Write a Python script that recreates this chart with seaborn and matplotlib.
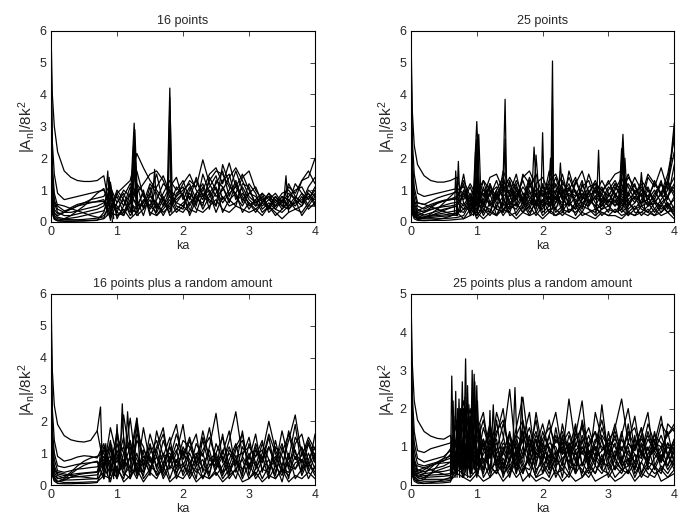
import pandas as pd
import seaborn as sns
import matplotlib
matplotlib.use('Agg')
import matplotlib.pyplot as plt

# sample positions (ka) shared by all traced curves
ka_grid = [0.0, 0.02, 0.05, 0.1, 0.2, 0.3, 0.4, 0.5, 0.6, 0.7, 0.8,
           0.9, 1.0, 1.1, 1.2, 1.3, 1.4, 1.5, 1.6, 1.7, 1.8, 1.9,
           2.0, 2.1, 2.2, 2.3, 2.4, 2.5, 2.6, 2.7, 2.8, 2.9, 3.0,
           3.1, 3.2, 3.3, 3.4, 3.5, 3.6, 3.7, 3.8, 3.9, 4.0]

titles = ['16 points', '25 points',
          '16 points plus a random amount', '25 points plus a random amount']
y_tops = [6, 6, 6, 5]

# --- 16 points ---
p1_curves = [
    [6.0, 4.0, 3.0, 2.2, 1.6, 1.4, 1.3, 1.27, 1.27, 1.3, 1.45,
     0.3, 0.9, 1.1, 1.3, 2.15, 1.7, 1.3, 1.0, 0.7, 0.4, 0.8,
     1.2, 1.5, 1.0, 0.7, 1.3, 1.6, 1.5, 1.1, 0.9, 1.4, 1.6,
     1.0, 0.7, 0.8, 0.6, 0.9, 1.0, 0.7, 1.3, 1.6, 1.2],
    [5.5, 2.5, 1.5, 0.9, 0.7, 0.75, 0.8, 0.85, 0.9, 0.95, 1.0,
     0.6, 0.3, 0.8, 1.2, 0.9, 1.2, 1.5, 1.6, 1.3, 0.8, 0.6,
     0.9, 1.3, 1.1, 1.95, 1.2, 0.8, 1.0, 1.4, 1.7, 1.3, 0.8,
     0.6, 0.7, 0.5, 0.8, 0.6, 1.1, 0.9, 1.3, 1.4, 2.0],
    [5.0, 1.8, 0.9, 0.5, 0.35, 0.4, 0.5, 0.6, 0.7, 0.75, 0.8,
     1.2, 0.1, 0.5, 0.9, 1.6, 0.8, 0.5, 1.1, 1.45, 0.9, 0.6,
     0.5, 0.9, 0.6, 1.0, 1.5, 1.7, 1.2, 1.85, 1.1, 0.7, 0.9,
     0.8, 0.5, 0.7, 0.9, 0.6, 1.2, 0.8, 0.6, 1.1, 1.4],
    [4.5, 1.5, 0.7, 0.4, 0.3, 0.3, 0.35, 0.4, 0.45, 0.5, 0.6,
     0.9, 0.3, 0.2, 0.6, 1.2, 0.4, 1.1, 0.4, 0.9, 1.3, 1.0,
     1.3, 0.7, 1.4, 0.8, 1.1, 1.45, 0.7, 1.0, 1.6, 1.0, 0.5,
     0.7, 0.9, 0.4, 0.7, 0.5, 0.8, 1.0, 1.1, 0.7, 1.0],
    [4.0, 1.2, 0.6, 0.3, 0.2, 0.2, 0.25, 0.3, 0.35, 0.4, 0.5,
     1.1, 0.6, 0.9, 0.4, 0.3, 0.7, 0.5, 0.3, 0.7, 1.1, 1.4,
     0.7, 1.1, 0.5, 1.5, 0.9, 1.2, 1.6, 0.8, 1.3, 0.6, 1.2,
     0.9, 0.4, 0.6, 0.4, 0.7, 0.5, 0.6, 0.9, 0.5, 0.8],
    [3.5, 1.0, 0.4, 0.25, 0.3, 0.4, 0.5, 0.55, 0.6, 0.65, 0.7,
     0.2, 0.9, 0.5, 1.1, 0.7, 0.2, 0.9, 1.5, 0.6, 0.3, 0.9,
     1.1, 0.5, 0.9, 1.2, 0.6, 0.9, 1.3, 1.5, 0.7, 1.1, 0.7,
     0.5, 0.9, 0.7, 0.5, 0.6, 0.9, 0.7, 0.5, 0.8, 0.7],
    [3.0, 0.8, 0.3, 0.15, 0.1, 0.12, 0.15, 0.2, 0.25, 0.3, 0.35,
     0.8, 0.4, 0.7, 0.2, 0.5, 0.9, 0.3, 0.2, 0.5, 0.8, 0.4,
     0.3, 0.6, 0.8, 0.5, 1.4, 1.0, 0.6, 0.9, 1.1, 1.5, 1.0,
     0.6, 0.8, 0.3, 0.5, 0.8, 0.4, 0.6, 0.7, 0.9, 0.6],
    [2.5, 0.6, 0.2, 0.1, 0.08, 0.07, 0.07, 0.08, 0.1, 0.12, 0.2,
     0.5, 0.8, 0.3, 0.6, 0.4, 1.0, 0.2, 0.6, 0.3, 0.5, 1.1,
     0.8, 0.4, 0.3, 0.9, 0.7, 0.5, 1.1, 0.6, 1.2, 0.8, 0.4,
     0.7, 0.3, 0.5, 0.2, 0.4, 0.7, 0.5, 0.8, 0.4, 0.6],
    [2.0, 0.5, 0.25, 0.2, 0.3, 0.45, 0.55, 0.6, 0.62, 0.63, 0.65,
     0.1, 0.6, 1.0, 0.8, 0.6, 0.5, 0.8, 0.6, 0.2, 0.6, 0.7,
     0.9, 0.2, 0.7, 0.6, 0.9, 0.3, 0.8, 0.5, 0.6, 0.9, 0.6,
     0.3, 0.6, 0.8, 0.4, 0.3, 0.5, 0.8, 0.6, 0.9, 0.5],
    [1.5, 0.4, 0.15, 0.05, 0.03, 0.03, 0.03, 0.04, 0.05, 0.06, 0.1,
     0.3, 0.2, 0.4, 0.1, 0.3, 0.6, 0.9, 0.4, 0.8, 0.2, 0.4,
     0.6, 0.8, 0.4, 0.3, 0.5, 0.7, 0.4, 0.3, 0.5, 0.4, 0.3,
     0.4, 0.2, 0.5, 0.3, 0.1, 0.3, 0.4, 0.3, 0.6, 0.9],
    [1.2, 0.3, 0.1, 0.05, 0.1, 0.2, 0.35, 0.5, 0.7, 0.9, 1.05,
     0.4, 1.0, 0.7, 0.3, 1.2, 0.9, 0.4, 0.7, 1.2, 1.0, 0.5,
     0.4, 1.0, 1.3, 0.8, 1.0, 0.5, 1.8, 1.2, 0.8, 0.5, 0.9,
     1.1, 0.6, 0.9, 0.7, 0.4, 0.6, 1.2, 0.9, 0.7, 1.1],
    [2.2, 0.7, 0.5, 0.55, 0.5, 0.42, 0.35, 0.28, 0.2, 0.15, 0.12,
     0.7, 0.5, 0.2, 0.9, 0.5, 0.6, 1.2, 0.9, 0.5, 1.0, 0.8,
     1.0, 1.2, 0.7, 1.1, 0.4, 1.3, 1.1, 0.7, 0.5, 1.2, 1.1,
     0.5, 0.6, 0.9, 0.5, 0.8, 0.7, 0.4, 0.5, 1.0, 0.8],
    [1.0, 0.25, 0.08, 0.03, 0.02, 0.02, 0.03, 0.03, 0.04, 0.05, 0.3,
     1.0, 0.2, 0.3, 0.7, 0.2, 0.4, 0.7, 0.2, 0.4, 0.7, 0.3,
     0.5, 0.3, 0.9, 0.4, 0.8, 1.1, 0.3, 0.7, 0.9, 0.3, 0.6,
     0.4, 0.6, 0.4, 0.8, 0.5, 0.4, 0.7, 0.2, 0.5, 0.5],
]
p1_spike_ka = [[0.82, 0.86, 0.9], [0.85, 0.88, 0.93], [1.2, 1.26, 1.3],
               [1.22, 1.26, 1.29], [1.24, 1.27, 1.31], [1.76, 1.8, 1.83],
               [1.77, 1.8, 1.82], [1.53, 1.57, 1.6], [3.52, 3.56, 3.6],
               [1.23, 1.27, 1.32], [1.21, 1.25, 1.28], [1.78, 1.8, 1.84],
               [0.86, 0.9, 0.95]]
p1_spike_val = [[0.5, 1.6, 0.05], [0.2, 1.4, 0.0], [0.6, 3.1, 0.5],
                [0.3, 2.8, 0.3], [0.9, 2.2, 0.6], [0.8, 4.2, 0.3],
                [0.4, 3.5, 0.4], [0.5, 1.65, 0.3], [0.5, 1.45, 0.3],
                [0.2, 2.9, 0.2], [0.4, 2.4, 0.8], [1.0, 3.9, 0.6],
                [0.6, 1.25, 0.1]]

# --- 25 points ---
p2_curves = [
    [6.0, 3.5, 2.4, 1.8, 1.45, 1.3, 1.25, 1.25, 1.3, 1.4, 0.6,
     0.3, 1.2, 0.8, 1.4, 1.5, 1.0, 1.2, 0.7, 1.4, 1.6, 1.1,
     0.8, 1.3, 1.5, 0.9, 1.2, 0.6, 1.1, 1.3, 0.7, 1.0, 1.2,
     1.5, 1.6, 1.1, 0.7, 1.3, 1.0, 0.6, 0.9, 1.5, 2.6],
    [5.5, 2.6, 1.5, 0.9, 0.8, 0.85, 0.9, 0.95, 1.0, 1.05, 0.9,
     0.4, 0.9, 1.3, 0.6, 1.0, 1.4, 0.8, 1.3, 0.9, 0.5, 1.2,
     1.4, 0.9, 0.6, 1.3, 0.8, 1.0, 0.5, 0.9, 1.3, 0.8, 0.6,
     1.0, 1.4, 0.8, 1.2, 0.5, 1.4, 1.1, 1.7, 1.0, 3.1],
    [5.0, 2.0, 1.1, 0.6, 0.55, 0.65, 0.75, 0.82, 0.88, 0.95, 0.7,
     1.1, 0.5, 0.7, 1.2, 0.4, 1.6, 1.1, 0.5, 1.5, 1.2, 0.8,
     0.6, 1.6, 1.1, 0.4, 1.6, 0.9, 0.7, 1.5, 0.9, 1.3, 0.9,
     0.6, 1.0, 1.5, 0.9, 1.1, 0.7, 1.3, 0.8, 1.2, 2.2],
    [4.5, 1.7, 0.9, 0.5, 0.4, 0.5, 0.6, 0.66, 0.7, 0.75, 1.2,
     0.2, 0.6, 1.0, 0.8, 1.3, 0.7, 0.4, 1.0, 0.6, 1.3, 0.5,
     1.0, 0.7, 1.2, 0.7, 0.5, 1.3, 0.8, 0.6, 1.1, 0.5, 0.8,
     1.2, 0.7, 0.5, 1.0, 0.8, 0.5, 0.9, 1.2, 0.7, 1.8],
    [4.0, 1.4, 0.7, 0.4, 0.3, 0.38, 0.45, 0.52, 0.58, 0.62, 0.4,
     0.8, 0.3, 1.1, 0.5, 0.9, 0.3, 0.7, 1.2, 0.4, 0.9, 1.0,
     0.5, 1.1, 0.4, 1.0, 0.6, 0.4, 1.2, 0.7, 0.5, 0.9, 1.3,
     0.8, 0.4, 0.9, 0.6, 1.0, 0.8, 0.4, 0.7, 1.0, 1.4],
    [3.6, 1.2, 0.6, 0.3, 0.22, 0.28, 0.34, 0.4, 0.45, 0.5, 0.9,
     0.5, 1.0, 0.4, 0.3, 0.8, 0.5, 1.3, 0.6, 0.3, 0.7, 0.4,
     1.2, 0.5, 0.8, 0.6, 0.9, 0.7, 0.4, 1.0, 0.6, 0.4, 0.7,
     0.5, 0.9, 0.6, 0.4, 0.7, 1.1, 0.6, 0.5, 0.8, 1.1],
    [3.2, 1.0, 0.5, 0.25, 0.18, 0.2, 0.24, 0.28, 0.32, 0.36, 0.3,
     0.7, 0.2, 0.5, 0.9, 0.2, 0.6, 0.3, 0.9, 0.7, 0.3, 0.6,
     0.4, 0.8, 0.3, 0.5, 1.1, 0.5, 0.9, 0.4, 0.3, 0.7, 0.5,
     0.7, 0.3, 0.5, 0.8, 0.4, 0.3, 0.6, 0.9, 0.4, 0.8],
    [2.8, 0.8, 0.4, 0.2, 0.12, 0.14, 0.16, 0.18, 0.2, 0.22, 0.6,
     0.3, 0.8, 0.2, 0.6, 0.4, 0.3, 0.9, 0.2, 0.5, 1.0, 0.3,
     0.7, 0.3, 0.6, 0.9, 0.3, 0.6, 0.3, 0.7, 0.5, 0.2, 0.4,
     0.3, 0.6, 0.3, 0.2, 0.5, 0.6, 0.3, 0.6, 0.3, 0.5],
    [2.4, 0.7, 0.35, 0.2, 0.3, 0.45, 0.58, 0.66, 0.7, 0.72, 0.5,
     0.9, 0.4, 0.3, 1.0, 0.6, 0.2, 0.5, 0.4, 0.8, 0.4, 0.9,
     0.3, 0.5, 0.9, 0.3, 0.7, 0.2, 0.6, 0.5, 0.8, 0.6, 0.3,
     0.9, 0.5, 0.7, 0.3, 0.3, 0.5, 0.7, 0.4, 0.6, 0.3],
    [2.0, 0.6, 0.3, 0.15, 0.1, 0.1, 0.1, 0.11, 0.12, 0.14, 0.2,
     0.6, 0.1, 0.4, 0.2, 0.5, 0.8, 0.2, 0.3, 0.6, 0.2, 0.7,
     0.2, 0.4, 0.2, 0.4, 0.3, 0.5, 0.2, 0.3, 0.4, 0.3, 0.2,
     0.4, 0.2, 0.3, 0.5, 0.2, 0.4, 0.2, 0.3, 0.5, 0.2],
    [1.8, 0.5, 0.25, 0.15, 0.15, 0.2, 0.28, 0.36, 0.44, 0.5, 1.5,
     0.3, 0.7, 0.9, 0.5, 0.7, 1.2, 0.6, 0.8, 1.3, 0.7, 1.0,
     0.9, 0.6, 1.0, 0.8, 1.4, 0.9, 0.6, 0.8, 1.0, 0.7, 1.1,
     0.9, 0.6, 1.2, 0.9, 0.6, 1.0, 0.7, 1.2, 0.8, 1.2],
    [1.5, 0.4, 0.2, 0.08, 0.05, 0.05, 0.05, 0.05, 0.06, 0.08, 0.1,
     0.2, 0.3, 0.1, 0.3, 0.2, 0.4, 0.3, 0.1, 0.3, 0.2, 0.3,
     0.1, 0.3, 0.2, 0.3, 0.2, 0.1, 0.3, 0.2, 0.1, 0.3, 0.2,
     0.2, 0.1, 0.3, 0.2, 0.3, 0.2, 0.4, 0.2, 0.3, 0.1],
    [1.2, 0.35, 0.25, 0.3, 0.35, 0.4, 0.44, 0.48, 0.5, 0.55, 0.8,
     1.2, 0.8, 0.6, 0.9, 1.1, 0.8, 1.0, 0.7, 1.1, 0.8, 0.6,
     1.1, 0.8, 0.7, 1.1, 0.5, 0.8, 1.0, 0.6, 0.8, 1.1, 0.6,
     1.1, 0.8, 0.6, 0.8, 0.6, 0.7, 1.0, 0.6, 0.8, 0.4],
    [1.0, 0.3, 0.15, 0.1, 0.15, 0.18, 0.2, 0.22, 0.25, 0.28, 0.4,
     0.5, 0.4, 0.6, 0.3, 1.0, 0.4, 0.6, 0.5, 0.9, 0.6, 0.5,
     0.7, 0.5, 0.8, 0.5, 0.6, 0.4, 0.7, 0.9, 0.4, 0.5, 0.9,
     0.5, 0.7, 0.4, 0.6, 0.9, 0.5, 0.6, 0.3, 0.6, 0.2],
    [1.4, 0.4, 0.2, 0.1, 0.12, 0.25, 0.4, 0.6, 0.8, 1.0, 1.1,
     0.7, 1.4, 0.6, 1.1, 0.8, 1.3, 0.9, 1.5, 0.6, 1.1, 1.5,
     0.8, 1.2, 0.9, 1.5, 0.7, 1.2, 1.6, 0.9, 1.2, 0.6, 1.0,
     1.3, 0.9, 1.4, 1.1, 0.8, 1.5, 1.2, 0.9, 1.3, 0.9],
    [2.6, 0.9, 0.6, 0.6, 0.55, 0.48, 0.4, 0.33, 0.26, 0.2, 1.0,
     0.6, 1.1, 0.5, 1.2, 0.7, 1.1, 0.5, 1.1, 0.7, 1.4, 0.8,
     0.5, 0.9, 1.4, 0.7, 1.0, 0.8, 1.3, 0.5, 1.0, 0.9, 0.5,
     0.8, 1.2, 0.7, 0.9, 1.2, 0.6, 0.8, 1.3, 0.5, 0.7],
    [0.9, 0.25, 0.1, 0.05, 0.04, 0.05, 0.08, 0.12, 0.18, 0.3, 0.1,
     0.4, 0.2, 0.5, 0.4, 0.2, 0.7, 0.4, 0.6, 0.3, 0.5, 0.2,
     0.5, 0.6, 0.4, 0.2, 0.4, 0.3, 0.5, 0.4, 0.2, 0.4, 0.5,
     0.3, 0.4, 0.2, 0.4, 0.5, 0.3, 0.2, 0.5, 0.3, 0.4],
    [1.6, 0.45, 0.3, 0.35, 0.45, 0.55, 0.62, 0.68, 0.72, 0.8, 1.3,
     0.8, 0.5, 1.3, 1.0, 0.7, 1.0, 1.4, 1.0, 0.6, 1.2, 0.8,
     1.1, 1.0, 0.7, 1.2, 1.0, 1.4, 0.7, 1.1, 1.2, 1.0, 0.8,
     1.2, 1.0, 0.9, 1.4, 1.0, 0.8, 1.2, 0.9, 1.2, 0.8],
]
p2_spike_ka = [[0.66, 0.68, 0.71], [0.69, 0.72, 0.75], [0.94, 1.0, 1.05],
               [0.97, 1.0, 1.03], [1.0, 1.03, 1.07], [0.95, 0.98, 1.01],
               [1.39, 1.43, 1.46], [1.4, 1.43, 1.45], [1.83, 1.87, 1.92],
               [1.86, 1.9, 1.95], [1.97, 2.0, 2.03], [2.12, 2.15, 2.17],
               [2.13, 2.15, 2.16], [2.08, 2.12, 2.15], [2.23, 2.27, 2.32],
               [2.81, 2.85, 2.88], [3.16, 3.22, 3.27], [3.18, 3.22, 3.25],
               [3.15, 3.2, 3.24], [3.22, 3.25, 3.3], [3.46, 3.5, 3.55],
               [0.95, 1.0, 1.04], [3.17, 3.22, 3.26], [3.85, 3.95, 4.0]]
p2_spike_val = [[0.3, 1.6, 0.2], [0.2, 1.9, 0.3], [0.5, 3.15, 0.6],
                [0.3, 2.2, 0.4], [0.6, 2.75, 0.4], [0.2, 2.2, 0.3],
                [0.5, 3.85, 0.3], [0.8, 2.6, 0.6], [0.6, 2.35, 0.5],
                [0.5, 2.1, 0.7], [0.4, 2.8, 0.3], [0.3, 5.05, 0.2],
                [0.6, 3.6, 0.5], [0.5, 2.0, 0.4], [0.5, 1.85, 0.3],
                [0.2, 2.25, 0.4], [0.4, 2.75, 0.3], [0.6, 2.3, 0.5],
                [0.3, 2.3, 0.6], [0.4, 2.0, 0.2], [0.5, 1.55, 0.4],
                [0.3, 2.6, 0.5], [0.5, 2.5, 0.6], [0.8, 1.9, 2.9]]

# --- 16 points plus a random amount ---
p3_curves = [
    [6.0, 3.6, 2.5, 1.9, 1.55, 1.42, 1.37, 1.35, 1.4, 1.7, 0.6,
     1.2, 0.3, 2.2, 0.8, 1.9, 0.5, 1.6, 0.9, 0.4, 1.3, 1.9,
     0.6, 1.1, 1.6, 0.4, 1.2, 2.25, 0.7, 1.4, 2.3, 0.9, 1.5,
     0.5, 1.0, 2.0, 1.1, 0.6, 1.4, 2.2, 0.9, 1.5, 1.1],
    [5.4, 2.4, 1.4, 0.9, 0.75, 0.8, 0.88, 0.92, 0.9, 0.85, 1.3,
     0.4, 1.7, 0.6, 2.1, 0.4, 1.8, 0.7, 1.2, 1.8, 0.5, 1.0,
     1.9, 0.5, 1.3, 0.9, 1.8, 0.6, 1.0, 1.7, 0.4, 1.2, 0.8,
     1.6, 0.4, 1.2, 0.6, 1.7, 0.8, 1.9, 0.5, 1.3, 0.7],
    [4.8, 1.8, 1.0, 0.6, 0.55, 0.6, 0.65, 0.68, 0.7, 0.72, 0.2,
     1.1, 0.7, 1.5, 0.2, 1.4, 1.0, 0.3, 1.7, 0.9, 1.5, 0.3,
     1.2, 0.8, 0.2, 1.5, 0.9, 0.5, 1.6, 0.3, 1.1, 1.4, 0.6,
     0.9, 1.4, 0.3, 1.2, 0.9, 0.2, 1.3, 1.6, 0.7, 0.4],
    [4.2, 1.5, 0.8, 0.45, 0.4, 0.45, 0.5, 0.52, 0.55, 0.57, 0.9,
     0.3, 1.3, 0.5, 0.9, 2.1, 0.6, 1.3, 0.5, 1.4, 0.8, 1.6,
     0.9, 1.5, 0.7, 1.0, 0.3, 1.3, 0.8, 1.2, 0.6, 1.7, 0.3,
     1.1, 0.7, 1.5, 0.4, 1.0, 1.6, 0.8, 1.2, 0.5, 1.6],
    [3.6, 1.2, 0.6, 0.35, 0.3, 0.33, 0.36, 0.38, 0.4, 0.42, 1.2,
     0.6, 0.2, 1.0, 1.4, 0.3, 1.1, 0.8, 0.3, 0.7, 1.2, 0.5,
     1.1, 0.3, 0.9, 1.4, 0.6, 0.9, 0.3, 0.8, 1.3, 0.4, 1.0,
     0.3, 0.8, 1.2, 0.7, 0.1, 0.9, 0.5, 1.0, 1.3, 0.8],
    [3.0, 1.0, 0.5, 0.3, 0.22, 0.24, 0.26, 0.28, 0.3, 0.32, 0.7,
     0.9, 0.5, 0.2, 0.9, 0.6, 0.3, 1.2, 0.6, 1.0, 0.2, 0.8,
     0.4, 1.0, 0.5, 0.2, 0.8, 0.6, 1.1, 0.4, 0.8, 0.3, 1.3,
     0.7, 0.2, 0.6, 0.9, 0.4, 0.7, 1.1, 0.3, 0.8, 1.2],
    [2.6, 0.8, 0.4, 0.22, 0.16, 0.16, 0.17, 0.18, 0.19, 0.2, 0.4,
     1.4, 0.2, 0.8, 0.4, 1.0, 0.2, 0.5, 0.9, 0.2, 0.6, 0.4,
     0.7, 0.2, 0.6, 0.8, 0.2, 0.5, 0.9, 0.2, 0.5, 0.8, 0.2,
     0.5, 0.9, 0.2, 0.6, 0.3, 1.0, 0.2, 0.5, 0.7, 0.3],
    [2.2, 0.6, 0.3, 0.2, 0.25, 0.4, 0.6, 0.75, 0.85, 0.9, 1.0,
     0.5, 1.1, 0.3, 0.6, 0.2, 0.8, 0.4, 1.1, 0.3, 0.7, 1.1,
     0.3, 0.7, 1.0, 0.5, 0.4, 1.0, 0.4, 0.6, 0.2, 0.9, 0.5,
     1.2, 0.5, 0.4, 1.4, 0.5, 0.4, 0.9, 0.4, 1.0, 0.5],
    [1.8, 0.5, 0.25, 0.12, 0.08, 0.08, 0.08, 0.09, 0.1, 0.1, 0.3,
     0.2, 0.6, 0.1, 0.3, 0.5, 0.1, 0.4, 0.2, 0.6, 0.1, 0.3,
     0.2, 0.5, 0.1, 0.3, 0.2, 0.4, 0.1, 0.3, 0.5, 0.1, 0.2,
     0.4, 0.1, 0.3, 0.2, 0.5, 0.1, 0.3, 0.2, 0.4, 0.2],
    [1.4, 0.4, 0.2, 0.1, 0.15, 0.25, 0.32, 0.36, 0.38, 0.4, 0.8,
     1.3, 0.4, 0.6, 1.2, 0.3, 0.9, 0.6, 0.4, 0.9, 1.0, 0.6,
     1.0, 0.7, 0.4, 0.6, 1.1, 0.3, 0.6, 1.0, 0.7, 0.5, 0.9,
     0.6, 1.3, 0.8, 0.3, 1.2, 0.6, 0.5, 0.8, 0.6, 1.0],
    [1.2, 0.35, 0.15, 0.1, 0.2, 0.35, 0.5, 0.62, 0.7, 0.75, 0.5,
     1.8, 0.9, 1.2, 0.5, 1.6, 1.2, 0.5, 1.1, 1.6, 0.7, 1.3,
     0.8, 1.4, 0.6, 1.7, 0.8, 1.0, 1.5, 0.6, 1.2, 1.6, 0.5,
     1.3, 0.8, 1.6, 1.0, 0.4, 1.7, 1.0, 0.7, 1.4, 0.9],
    [2.4, 0.75, 0.45, 0.4, 0.35, 0.3, 0.27, 0.25, 0.22, 0.2, 1.1,
     0.7, 1.5, 1.0, 1.3, 0.8, 0.4, 1.0, 1.4, 0.6, 1.2, 0.7,
     1.4, 1.2, 0.7, 1.1, 1.5, 0.8, 0.4, 1.1, 0.9, 1.0, 1.2,
     0.9, 1.1, 0.5, 0.8, 1.3, 0.5, 1.5, 1.1, 0.4, 0.9],
    [1.0, 0.3, 0.12, 0.05, 0.04, 0.04, 0.05, 0.05, 0.06, 0.08, 0.6,
     0.1, 0.9, 0.4, 0.2, 0.7, 0.4, 0.9, 0.3, 0.5, 0.9, 0.2,
     0.6, 0.4, 0.9, 0.2, 0.6, 0.8, 0.2, 0.5, 0.9, 0.2, 0.7,
     0.2, 0.5, 0.8, 0.2, 0.5, 0.3, 0.7, 0.8, 0.2, 0.6],
]
p3_spike_ka = [[0.7, 0.75, 0.78], [0.72, 0.76, 0.8], [0.8, 0.83, 0.86],
               [0.88, 0.92, 0.95], [1.04, 1.08, 1.12], [1.12, 1.16, 1.22],
               [1.26, 1.3, 1.35], [0.96, 1.0, 1.04]]
p3_spike_val = [[1.7, 2.45, 0.5], [0.4, 1.3, 0.2], [0.2, 1.3, 0.3],
                [0.1, 1.25, 0.2], [0.5, 2.55, 0.4], [0.6, 2.3, 0.3],
                [0.4, 2.1, 0.5], [0.3, 1.9, 0.6]]

# --- 25 points plus a random amount ---
p4_curves = [
    [5.0, 3.2, 2.2, 1.7, 1.4, 1.28, 1.22, 1.2, 1.3, 0.5, 1.9,
     0.6, 1.4, 1.9, 0.7, 1.3, 2.0, 0.6, 1.5, 2.3, 0.9, 1.7,
     0.6, 1.3, 1.9, 0.8, 2.25, 1.0, 1.6, 0.5, 1.9, 1.2, 0.6,
     1.5, 2.25, 1.1, 1.8, 0.7, 1.4, 0.9, 1.6, 1.3, 1.5],
    [4.6, 2.4, 1.4, 0.9, 0.85, 0.95, 1.0, 1.05, 1.1, 1.6, 0.4,
     1.8, 0.9, 0.4, 1.6, 0.8, 1.2, 2.5, 0.7, 1.2, 1.9, 0.5,
     1.4, 0.9, 0.4, 1.6, 0.8, 1.3, 2.2, 0.6, 1.1, 1.7, 0.9,
     0.4, 1.3, 2.0, 0.9, 1.5, 0.6, 1.1, 1.8, 0.7, 1.2],
    [4.2, 1.9, 1.1, 0.7, 0.6, 0.65, 0.7, 0.75, 0.9, 0.3, 1.3,
     2.0, 0.5, 1.1, 0.3, 1.7, 0.5, 1.0, 0.3, 1.4, 0.6, 1.9,
     0.9, 0.4, 1.5, 0.6, 1.0, 0.3, 1.7, 0.9, 0.5, 2.1, 0.7,
     1.1, 0.5, 1.6, 0.4, 1.3, 1.9, 0.5, 0.9, 1.4, 0.6],
    [3.8, 1.6, 0.9, 0.55, 0.5, 0.55, 0.6, 0.63, 0.8, 1.2, 0.6,
     1.1, 0.2, 0.9, 1.4, 0.4, 0.9, 1.3, 0.3, 1.0, 0.5, 1.2,
     0.3, 1.0, 0.6, 1.3, 0.4, 1.5, 0.5, 1.1, 1.4, 0.4, 1.0,
     1.6, 0.7, 0.3, 1.2, 0.9, 0.5, 1.4, 0.6, 1.0, 0.8],
    [3.4, 1.3, 0.7, 0.4, 0.35, 0.4, 0.45, 0.5, 0.6, 0.9, 0.2,
     0.8, 1.5, 0.6, 0.9, 1.2, 0.2, 0.7, 1.1, 0.6, 0.2, 0.9,
     1.2, 0.5, 0.9, 0.2, 1.1, 0.7, 0.3, 0.9, 0.6, 1.2, 0.4,
     0.8, 1.0, 0.5, 1.3, 0.3, 0.8, 1.2, 0.4, 0.7, 1.1],
    [3.0, 1.1, 0.6, 0.35, 0.3, 0.32, 0.34, 0.36, 0.4, 0.5, 1.0,
     0.3, 0.7, 1.2, 0.4, 0.6, 0.8, 1.4, 0.4, 0.8, 1.3, 0.3,
     0.8, 1.3, 0.5, 0.7, 0.9, 0.3, 1.2, 0.4, 0.8, 0.5, 1.4,
     0.6, 0.4, 0.9, 0.6, 1.1, 0.4, 0.7, 1.0, 0.5, 0.9],
    [2.7, 0.9, 0.5, 0.3, 0.25, 0.26, 0.27, 0.28, 0.3, 0.7, 0.5,
     0.6, 1.0, 0.2, 0.5, 0.3, 0.6, 0.2, 0.9, 0.4, 0.7, 0.2,
     0.5, 0.8, 0.2, 0.6, 0.3, 0.9, 0.2, 0.5, 0.3, 0.8, 0.2,
     0.5, 0.3, 0.7, 0.2, 0.6, 0.3, 0.2, 0.5, 0.3, 0.6],
    [2.4, 0.8, 0.4, 0.25, 0.2, 0.21, 0.22, 0.23, 0.25, 1.4, 0.8,
     0.4, 0.5, 0.8, 1.1, 0.5, 1.0, 0.6, 1.2, 0.8, 1.1, 0.7,
     1.1, 0.6, 1.2, 0.9, 0.6, 1.1, 0.8, 1.3, 0.7, 0.9, 1.1,
     0.7, 1.2, 0.8, 0.6, 1.0, 1.3, 0.8, 0.6, 1.1, 0.9],
    [2.1, 0.7, 0.35, 0.2, 0.15, 0.15, 0.15, 0.15, 0.16, 0.4, 0.3,
     0.2, 0.4, 0.6, 0.2, 0.8, 0.3, 0.5, 0.2, 0.4, 0.7, 0.2,
     0.3, 0.6, 0.3, 0.4, 0.2, 0.6, 0.4, 0.2, 0.5, 0.3, 0.6,
     0.2, 0.4, 0.3, 0.6, 0.2, 0.5, 0.3, 0.4, 0.2, 0.4],
    [1.8, 0.6, 0.3, 0.2, 0.3, 0.45, 0.6, 0.7, 0.75, 1.1, 1.5,
     0.7, 1.3, 0.9, 1.6, 0.6, 1.1, 0.9, 0.5, 1.6, 1.0, 1.4,
     0.7, 1.1, 1.0, 0.5, 1.3, 0.8, 1.0, 0.7, 1.2, 1.0, 0.8,
     1.3, 0.6, 1.1, 0.8, 0.7, 1.2, 0.9, 1.3, 0.8, 0.5],
    [1.5, 0.5, 0.25, 0.12, 0.1, 0.1, 0.1, 0.1, 0.12, 0.3, 0.2,
     0.1, 0.3, 0.1, 0.2, 0.4, 0.1, 0.3, 0.6, 0.1, 0.3, 0.1,
     0.2, 0.1, 0.4, 0.1, 0.3, 0.1, 0.2, 0.4, 0.1, 0.2, 0.3,
     0.1, 0.2, 0.4, 0.1, 0.3, 0.2, 0.5, 0.1, 0.2, 0.3],
    [1.3, 0.4, 0.2, 0.15, 0.2, 0.3, 0.38, 0.44, 0.5, 0.9, 2.0,
     0.9, 0.5, 1.2, 0.7, 1.9, 1.3, 0.5, 0.8, 1.4, 0.6, 1.0,
     1.6, 0.9, 0.6, 1.2, 0.9, 1.6, 0.5, 0.9, 0.8, 1.5, 0.9,
     0.7, 1.4, 0.6, 1.0, 1.5, 0.7, 0.9, 0.6, 1.6, 1.4],
    [1.1, 0.35, 0.25, 0.3, 0.4, 0.5, 0.58, 0.64, 0.7, 0.5, 0.9,
     1.4, 0.8, 0.3, 1.0, 0.6, 0.3, 1.1, 0.6, 0.3, 0.8, 1.2,
     0.5, 0.2, 0.8, 1.1, 0.5, 0.4, 1.0, 0.6, 0.3, 0.7, 1.0,
     0.4, 0.7, 1.0, 0.3, 0.6, 1.0, 0.4, 0.8, 0.4, 0.7],
    [0.9, 0.3, 0.15, 0.08, 0.05, 0.05, 0.05, 0.06, 0.08, 0.6, 1.2,
     0.5, 0.9, 0.4, 1.2, 0.5, 0.7, 0.3, 1.0, 0.5, 0.4, 0.8,
     0.9, 0.4, 0.7, 1.0, 0.6, 0.5, 0.9, 0.5, 1.0, 0.6, 0.5,
     0.9, 0.5, 0.7, 0.4, 0.9, 0.6, 1.1, 0.7, 0.5, 1.0],
    [1.2, 0.35, 0.15, 0.1, 0.15, 0.3, 0.5, 0.7, 0.95, 1.7, 0.7,
     1.5, 1.1, 1.7, 0.9, 1.4, 1.7, 0.8, 1.3, 1.1, 1.5, 0.8,
     1.2, 1.5, 1.1, 1.4, 0.8, 1.2, 1.5, 1.0, 1.4, 0.9, 1.2,
     1.4, 0.9, 1.3, 1.5, 0.8, 1.6, 1.1, 1.0, 1.3, 1.6],
    [2.5, 0.85, 0.55, 0.5, 0.45, 0.4, 0.34, 0.28, 0.24, 0.8, 1.6,
     1.0, 0.6, 1.5, 0.9, 1.1, 0.4, 1.3, 0.9, 0.7, 1.2, 0.6,
     1.0, 0.7, 1.3, 0.8, 1.1, 0.6, 1.3, 0.8, 1.0, 0.6, 1.2,
     1.0, 0.6, 1.1, 0.9, 1.3, 0.7, 1.0, 0.7, 1.1, 0.6],
    [0.8, 0.25, 0.1, 0.05, 0.04, 0.06, 0.09, 0.14, 0.2, 1.0, 0.4,
     0.9, 0.3, 0.7, 0.5, 0.3, 0.9, 0.4, 0.7, 0.3, 0.9, 0.4,
     0.6, 0.3, 0.7, 0.4, 0.8, 0.3, 0.6, 0.3, 0.7, 0.4, 0.3,
     0.7, 0.4, 0.5, 0.8, 0.3, 0.6, 0.5, 0.3, 0.8, 0.4],
    [1.6, 0.5, 0.35, 0.38, 0.45, 0.52, 0.56, 0.58, 0.6, 1.2, 2.2,
     1.2, 1.7, 1.0, 1.3, 0.9, 1.6, 1.0, 1.3, 1.7, 0.8, 1.3,
     1.0, 1.7, 0.8, 1.1, 1.4, 0.9, 1.1, 1.5, 0.9, 1.3, 1.0,
     1.2, 0.9, 1.4, 1.0, 1.2, 0.9, 1.3, 1.1, 0.8, 1.2],
]
p4_spike_ka = [[0.6, 0.62, 0.65], [0.65, 0.68, 0.7], [0.7, 0.73, 0.76],
               [0.75, 0.78, 0.81], [0.8, 0.83, 0.86], [0.85, 0.88, 0.9],
               [0.9, 0.93, 0.96], [0.94, 0.97, 1.0], [0.97, 1.0, 1.03],
               [0.63, 0.65, 0.67], [0.69, 0.71, 0.74], [0.83, 0.86, 0.89],
               [1.21, 1.25, 1.29], [1.54, 1.58, 1.62], [1.65, 1.68, 1.72],
               [1.17, 1.2, 1.23], [0.77, 0.8, 0.83], [0.9, 0.95, 0.99],
               [0.61, 0.64, 0.67], [0.67, 0.7, 0.72], [0.72, 0.75, 0.78],
               [0.79, 0.82, 0.85], [0.86, 0.9, 0.93], [0.92, 0.96, 0.99],
               [0.98, 1.01, 1.05], [1.02, 1.05, 1.08]]
p4_spike_val = [[0.3, 2.85, 0.4], [0.5, 2.45, 0.3], [0.2, 2.25, 0.5],
                [0.4, 2.7, 0.3], [0.6, 3.3, 0.2], [0.3, 2.1, 0.5],
                [0.2, 3.0, 0.4], [0.5, 2.7, 0.3], [0.4, 2.6, 0.5],
                [0.2, 1.8, 0.6], [0.3, 2.0, 0.2], [0.5, 2.6, 0.4],
                [0.5, 2.1, 0.6], [0.6, 2.55, 0.7], [0.8, 2.3, 0.6],
                [0.4, 1.95, 0.5], [0.3, 1.9, 0.4], [0.6, 2.4, 0.5],
                [0.5, 2.2, 0.3], [0.2, 1.7, 0.5], [0.6, 2.0, 0.2],
                [0.2, 2.3, 0.5], [0.4, 1.8, 0.3], [0.3, 2.9, 0.5],
                [0.6, 2.2, 0.4], [0.3, 1.6, 0.6]]


def panel_frame(curves, spike_ka, spike_val):
    rows = []
    for i, ys in enumerate(curves):
        assert len(ys) == len(ka_grid), (i, len(ys))
        for x, y in zip(ka_grid, ys):
            rows.append(('c%d' % i, x, y))
    for j, (xs, ys) in enumerate(zip(spike_ka, spike_val)):
        for x, y in zip(xs, ys):
            rows.append(('s%d' % j, x, y))
    return pd.DataFrame(rows, columns=['curve', 'ka', 'value'])


frames = [panel_frame(p1_curves, p1_spike_ka, p1_spike_val),
          panel_frame(p2_curves, p2_spike_ka, p2_spike_val),
          panel_frame(p3_curves, p3_spike_ka, p3_spike_val),
          panel_frame(p4_curves, p4_spike_ka, p4_spike_val)]

sns.set_style('white')
plt.rcParams['font.family'] = ['Liberation Sans', 'DejaVu Sans']
plt.rcParams['mathtext.fontset'] = 'custom'
plt.rcParams['mathtext.rm'] = 'Liberation Sans'
plt.rcParams['mathtext.it'] = 'Liberation Sans'

fig = plt.figure(figsize=(6.93, 5.21), dpi=100)
positions = [[0.0736, 0.574, 0.381, 0.367], [0.593, 0.574, 0.380, 0.367],
             [0.0736, 0.069, 0.381, 0.367], [0.593, 0.069, 0.380, 0.367]]

for pos, df, title, ytop in zip(positions, frames, titles, y_tops):
    ax = fig.add_axes(pos)
    sns.lineplot(data=df, x='ka', y='value', units='curve', estimator=None,
                 sort=False, color='black', linewidth=0.9, ax=ax)
    ax.set_xlim(0, 4)
    ax.set_ylim(0, ytop)
    ax.set_xticks(range(0, 5))
    ax.set_yticks(range(0, ytop + 1))
    ax.set_title(title, fontsize=9, pad=5)
    ax.set_xlabel('ka', fontsize=9, labelpad=1)
    ax.set_ylabel(r'$|A_n|/8k^2$', fontsize=11, labelpad=1)
    ax.tick_params(direction='in', top=True, right=True, length=3.5,
                   width=0.6, labelsize=9, pad=3)
    for s in ax.spines.values():
        s.set_visible(True)
        s.set_color('black')
        s.set_linewidth(0.8)

fig.savefig('out.png', dpi=100)
